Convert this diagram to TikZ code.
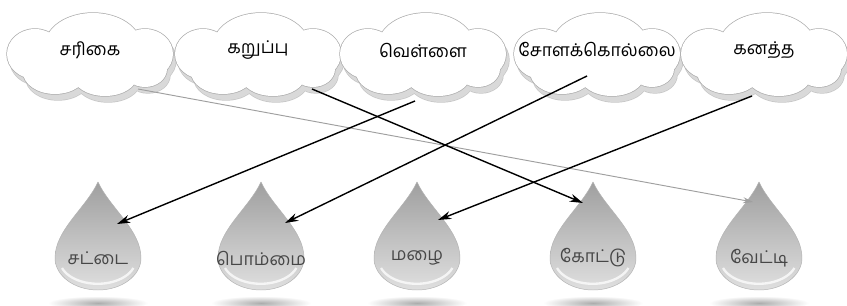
\documentclass[tikz,border=0pt]{standalone}
\usepackage{fontspec}
\newfontfamily\tamil[Script=Tamil]{Hind Madurai}
\usetikzlibrary{arrows.meta,calc}

% puffs of one cloud, round its centre
\newcommand{\cloudpuffs}{(3,8) ellipse[x radius=48, y radius=33]
  (-55,0) ellipse[x radius=28, y radius=25] (55,0) ellipse[x radius=28, y radius=25]
  (-35,-18) ellipse[x radius=32, y radius=22] (15,-22) ellipse[x radius=32, y radius=20]
  (55,-15) ellipse[x radius=22, y radius=18] (0,0) ellipse[x radius=60, y radius=28]}

\begin{document}
\begin{tikzpicture}[x=0.3mm, y=0.3mm,
    cloudword/.style={font=\tamil\fontsize{15}{18}\selectfont},
    dropword/.style={font=\tamil\fontsize{15}{18}\selectfont, text=black!72},
    link/.style={-{Stealth[length=4mm,width=2.4mm]}, line width=1.2pt},
    faintlink/.style={-{Stealth[length=3mm,width=1.8mm]}, line width=0.8pt, gray!75},
  ]
    % Frame
    \useasboundingbox (0,0) rectangle (847,305);
    \fill[white] (0,0) rectangle (847,305);
    % Drops with their shadows
    \foreach \n/\x/\word in {1/98/சட்டை, 2/261/பொம்மை, 3/417/மழை, 4/593/கோட்டு, 5/759/வேட்டி} {
      \shade[inner color=gray!65, outer color=white] (\x,2) ellipse[x radius=50, y radius=7];
      \begin{scope}[shift={(\x,47)}]
        \shade[top color=gray!75, bottom color=gray!25, draw=gray!60]
          (0,76) .. controls (12,50) and (43,28) .. (43,0)
          arc[start angle=0, end angle=-180, x radius=43, y radius=32]
          .. controls (-43,28) and (-12,50) .. (0,76);
        \draw[white, line width=2pt, opacity=0.75] (-36,-10) arc[start angle=200, end angle=340, x radius=38, y radius=24];
      \end{scope}
      \node[dropword] (d\n) at (\x,47) {\word};
    }
    % Clouds
    \foreach \n/\x/\word in {1/90/சரிகை, 2/258/கறுப்பு, 3/423/வெள்ளை, 4/597/சோளக்கொல்லை, 5/764/கனத்த} {
      \begin{scope}[shift={(\x+3,245)}]
        \draw[gray!45, line width=1.2pt] \cloudpuffs;
        \fill[gray!30] \cloudpuffs;
      \end{scope}
      \begin{scope}[shift={(\x,251)}]
        \draw[gray!65, line width=1.2pt] \cloudpuffs;
        \fill[white] \cloudpuffs;
      \end{scope}
      \node[cloudword] (w\n) at (\x,255) {\word};
    }
    % Ends of the links
    \coordinate (s1) at ($(w1)+(48,-39)$);
    \coordinate (s2) at ($(w2)+(54,-39)$);
    \coordinate (s3) at ($(w3)+(-8,-51)$);
    \coordinate (s4) at ($(w4)+(-10,-26)$);
    \coordinate (s5) at ($(w5)+(-12,-46)$);
    \coordinate (e1) at ($(d5)+(-6,56)$);
    \coordinate (e2) at ($(d4)+(-10,55)$);
    \coordinate (e3) at ($(d1)+(19,34)$);
    \coordinate (e4) at ($(d2)+(24,35)$);
    \coordinate (e5) at ($(d3)+(21,38)$);
    % Links
    \draw[faintlink] (s1) -- (e1);
    \draw[link] (s2) -- (e2);
    \draw[link] (s3) -- (e3);
    \draw[link] (s4) -- (e4);
    \draw[link] (s5) -- (e5);
  \end{tikzpicture}
\end{document}
